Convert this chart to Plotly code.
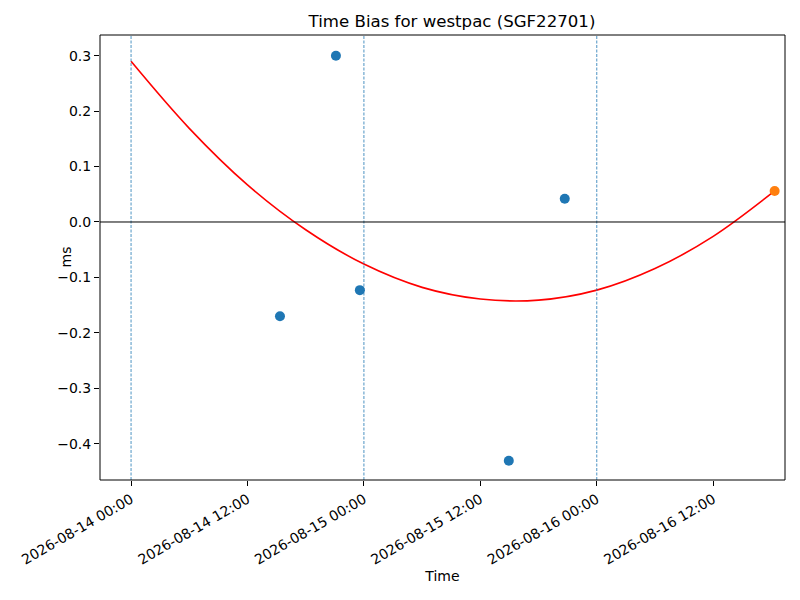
import plotly.graph_objects as go
import pandas as pd

# measured samples (blue) and latest sample (orange)
sample_times = ["2026-08-14 15:21", "2026-08-14 21:07", "2026-08-14 23:35",
                "2026-08-15 14:56", "2026-08-15 20:42"]
sample_bias = [-0.170, 0.300, -0.123, -0.431, 0.042]
latest_time = ["2026-08-16 18:20"]
latest_bias = [0.056]

# fitted trend
fit_times = ["2026-08-14 00:00", "2026-08-14 06:00", "2026-08-14 12:00", "2026-08-14 18:00",
             "2026-08-15 00:00", "2026-08-15 06:00", "2026-08-15 12:00", "2026-08-15 18:00",
             "2026-08-16 00:00", "2026-08-16 06:00", "2026-08-16 12:00", "2026-08-16 18:20"]
fit_bias = [0.290, 0.169, 0.067, -0.014, -0.076, -0.118, -0.139, -0.141,
            -0.123, -0.084, -0.026, 0.056]

day_lines = ["2026-08-14 00:00", "2026-08-15 00:00", "2026-08-16 00:00"]
tick_times = pd.date_range("2026-08-14 00:00", periods=6, freq="12h")

font = "DejaVu Sans"
tick_font = dict(family=font, size=14, color="black")
fig = go.Figure()

for d in day_lines:
    fig.add_shape(type="line", xref="x", yref="paper", x0=pd.Timestamp(d), x1=pd.Timestamp(d),
                  y0=0, y1=1, line=dict(color="#1f77b4", width=0.8, dash="3px,1.5px"))
fig.add_shape(type="line", xref="paper", yref="y", x0=0, x1=1, y0=0, y1=0,
              line=dict(color="black", width=1))

fig.add_trace(go.Scatter(x=pd.to_datetime(fit_times), y=fit_bias, mode="lines",
                         line=dict(color="red", width=1.6, shape="spline"), showlegend=False))
fig.add_trace(go.Scatter(x=pd.to_datetime(sample_times), y=sample_bias, mode="markers",
                         marker=dict(color="#1f77b4", size=10), showlegend=False))
fig.add_trace(go.Scatter(x=pd.to_datetime(latest_time), y=latest_bias, mode="markers",
                         marker=dict(color="#ff7f0e", size=10), showlegend=False))

# axes frame
fig.add_shape(type="rect", xref="paper", yref="paper", x0=0, x1=1, y0=0, y1=1,
              line=dict(color="black", width=1), layer="above")

# y label as annotation so it sits where matplotlib put it
fig.add_annotation(text="ms", xref="paper", yref="paper", x=(57 - 92) / 685, y=0.5,
                   textangle=-90, showarrow=False, font=tick_font,
                   xanchor="center", yanchor="middle")

# page body adds an 8px offset, margins compensate
fig.update_layout(
    width=800, height=600,
    margin=dict(l=92, r=23, t=27, b=128, autoexpand=False),
    paper_bgcolor="white", plot_bgcolor="white",
    font=dict(family=font, size=14, color="black"),
    title=dict(text="Time Bias for westpac (SGF22701)", x=(452 - 8) / 800, xanchor="center",
               y=1 - 13 / 600, yanchor="middle", font=dict(family=font, size=16.6, color="black")),
)
fig.update_xaxes(
    range=[pd.Timestamp("2026-08-14 00:00") - pd.Timedelta(hours=3.2),
           pd.Timestamp("2026-08-14 00:00") + pd.Timedelta(hours=67.4)],
    tickvals=tick_times, ticktext=[t.strftime("%Y-%m-%d %H:%M") for t in tick_times],
    tickangle=-30, ticks="outside", ticklen=5, tickcolor="black", tickfont=tick_font,
    showline=False, showgrid=False, zeroline=False, automargin=False,
    title=dict(text="Time", standoff=4, font=tick_font),
)
fig.update_yaxes(
    range=[-0.4657, 0.3375], tickvals=[-0.4, -0.3, -0.2, -0.1, 0.0, 0.1, 0.2, 0.3],
    tickformat=".1f", ticks="outside", ticklen=5, tickcolor="black", tickfont=tick_font,
    showline=False, showgrid=False, zeroline=False, automargin=False,
)

fig.write_html("out.html")
